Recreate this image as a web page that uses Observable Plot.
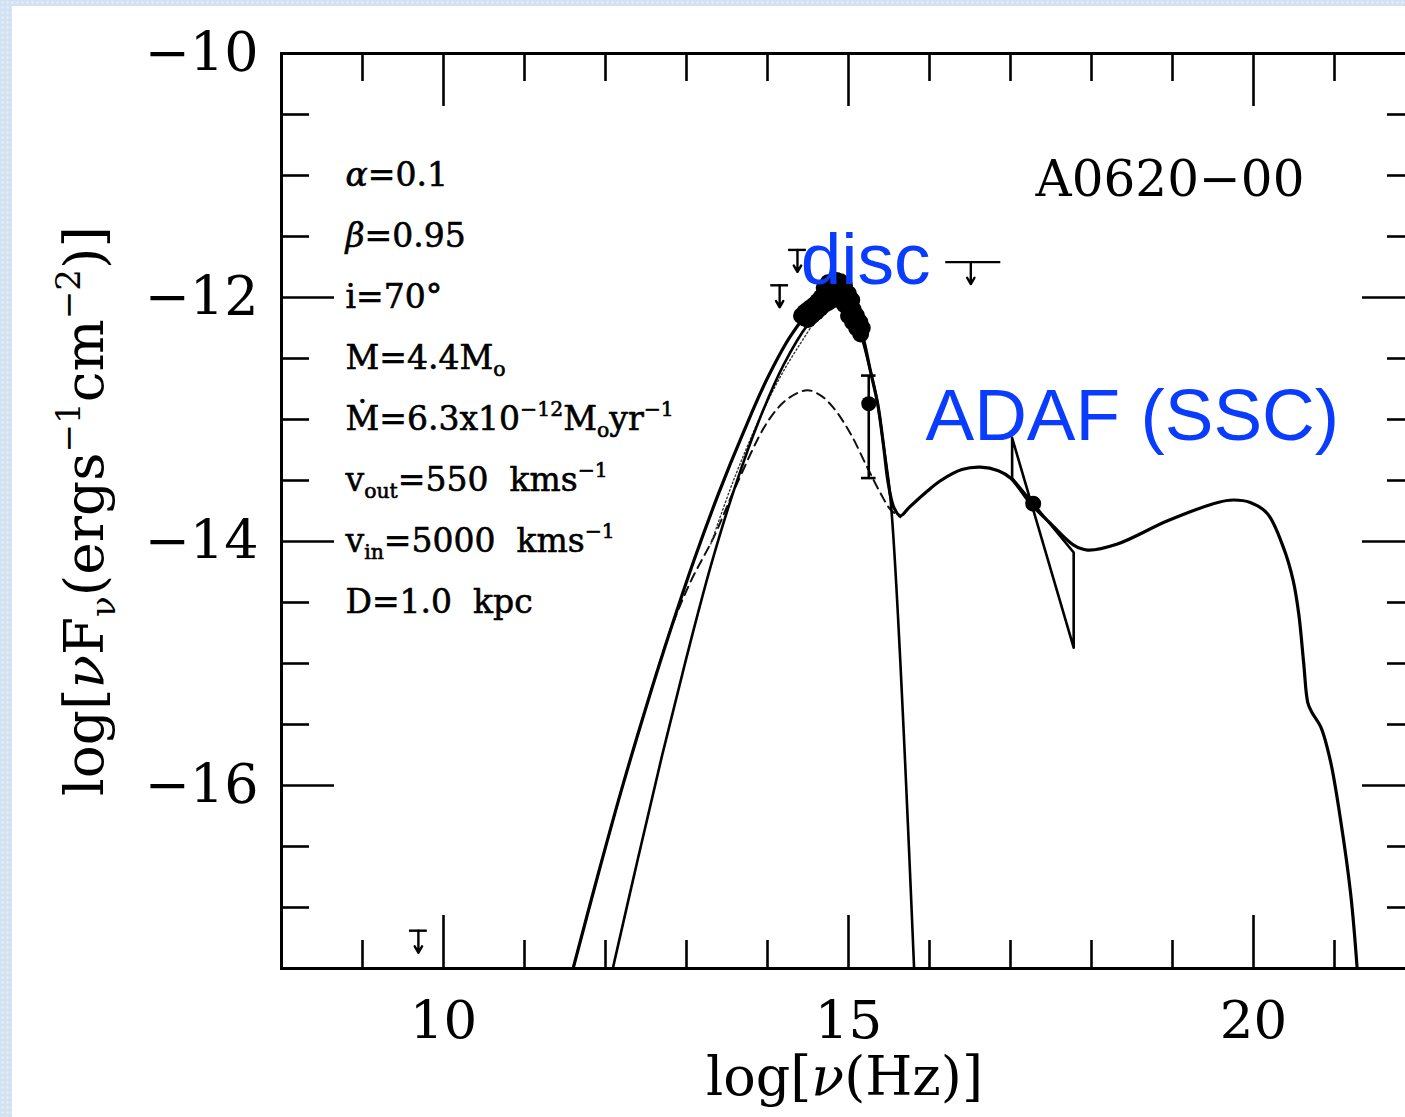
<!DOCTYPE html>
<html><head><meta charset="utf-8">
<script src="https://cdn.jsdelivr.net/npm/d3@7"></script>
<script src="https://cdn.jsdelivr.net/npm/@observablehq/plot@0.6"></script>
<style>
html,body{margin:0;padding:0;overflow:hidden;width:1405px;height:1117px;
  background:#d2e2f2;
  background-image:radial-gradient(rgba(255,255,255,0.35) 1px, transparent 1.5px);
  background-size:5px 5px;}
#panel{position:absolute;left:12px;top:6px;width:1413px;height:1111px;background:#fff;}
</style></head><body><div id="panel"></div>
<script>
// ---------- data ----------
const xTicksMinor = [9, 11, 12, 13, 14, 16, 17, 18, 19, 21];
const xTicksMajor = [10, 15, 20];
const xTickLabels = ["10", "15", "20"];
const yTicksMinor = [-10.5, -11, -11.5, -12.5, -13, -13.5, -14.5, -15, -15.5, -16.5, -17];
const yTicksMajor = [-12, -14, -16];
const yLabelTicks = [-10, -12, -14, -16];
const yTickLabels = ["−10", "−12", "−14", "−16"];

// total model (solid, outer)
const totalModel = [[11.6,-17.5],[11.9,-16.75],[12.2,-16.03],[12.5,-15.36],[12.8,-14.73],[13.1,-14.14],
  [13.4,-13.6],[13.7,-13.11],[14.0,-12.66],[14.3,-12.3],[14.6,-12.06],[14.85,-11.96],
  [15.05,-12.08],[15.17,-12.3],[15.27,-12.6],[15.36,-12.87],[15.43,-13.2],[15.49,-13.52],[15.56,-13.72],
  [15.64,-13.79],[15.75,-13.72],[15.95,-13.6],[16.14,-13.5],[16.4,-13.41],[16.63,-13.39],[16.85,-13.42],
  [17.0,-13.48],[17.25,-13.69],[17.49,-13.85],[17.78,-14.03],[17.95,-14.07],[18.32,-14.02],[18.94,-13.83],
  [19.56,-13.68],[19.75,-13.66],[19.96,-13.68],[20.17,-13.77],[20.37,-14.05],[20.49,-14.32],[20.56,-14.6],
  [20.62,-15.0],[20.67,-15.32],[20.72,-15.4],[20.83,-15.52],[20.95,-15.8],[21.07,-16.26],[21.2,-16.89],[21.28,-17.5]];
// disc component (solid, inner)
const discModel = [[12.09,-17.5],[12.4,-16.6],[12.7,-15.75],[13.0,-14.95],[13.3,-14.2],[13.6,-13.55],
  [13.9,-13.0],[14.2,-12.55],[14.5,-12.22],[14.75,-12.05],[14.95,-12.03],[15.1,-12.2],[15.27,-12.6],
  [15.36,-12.87],[15.43,-13.2],[15.52,-13.66],[15.81,-17.5]];
// ADAF component (dashed)
const adafModel = [[11.6,-17.5],[11.9,-16.75],[12.2,-16.03],[12.5,-15.36],[12.8,-14.73],[13.05,-14.33],
  [13.34,-13.96],[13.6,-13.56],[14.0,-13.02],[14.25,-12.83],[14.49,-12.76],[14.65,-12.8],[14.81,-12.9],
  [15.02,-13.11],[15.23,-13.39],[15.4,-13.61],[15.52,-13.74],[15.64,-13.8]];
// dotted component
const dottedModel = [[13.3,-14.02],[13.58,-13.5],[13.91,-12.98],[14.2,-12.6],[14.53,-12.25]];

// optical/UV data (blob)
const opticalData = [[14.42,-12.15],[14.46,-12.12],[14.5,-12.1],[14.54,-12.08],[14.58,-12.06],[14.62,-12.03],
  [14.66,-12.0],[14.7,-11.98],[14.74,-11.96],[14.78,-11.94],[14.82,-11.92],[14.86,-11.92],[14.9,-11.93],
  [14.94,-11.96],[14.98,-12.02],[15.02,-12.06],[15.06,-12.1],[15.1,-12.15],[15.14,-12.2],[15.17,-12.25],
  [14.46,-12.17],[14.5,-12.18],[14.55,-12.15],[14.6,-12.12],[14.65,-12.09],[14.7,-12.06],[14.75,-12.04],
  [14.8,-12.02],[14.85,-12.0],[14.9,-12.02],[14.95,-12.06],[15.0,-12.15],[15.05,-12.2],[15.1,-12.25],
  [15.15,-12.3],[14.7,-11.92],[14.75,-11.88],[14.8,-11.87],[14.85,-11.86],[14.9,-11.87],[14.95,-11.9],
  [15.0,-11.97],[15.04,-12.02]];
// points with error bars
const errorPoints = [{x: 15.25, y: -12.87, hi: -12.64, lo: -13.48}];
// X-ray bow tie and point
const xrayBowtie = [[17.02,-13.15],[17.78,-14.87],[17.78,-14.09],[17.02,-13.48],[17.02,-13.15]];
const xrayPoint = [[17.28,-13.69]];
// upper limits
const upperLimits = [
  {x: 14.15, y: -11.90, x1: 14.04, x2: 14.26},
  {x: 14.37, y: -11.61, x1: 14.26, x2: 14.48},
  {x: 16.51, y: -11.71, x1: 16.2, x2: 16.88},
  {x: 9.69, y: -17.19, x1: 9.58, x2: 9.80}
];

const params = ["*{α}=0.1", "*{β}=0.95", "i=70°", "M=4.4M_{o}", "Ṁ=6.3x10^{−12}M_{o}yr^{−1}",
  "v_{out}=550\u00a0\u00a0kms^{−1}", "v_{in}=5000\u00a0\u00a0kms^{−1}", "D=1.0\u00a0\u00a0kpc"];
const paramY = [-11, -11.5, -12, -12.5, -13, -13.5, -14, -14.5];
const paramX = 8.79;
const sourceName = [{text: "A0620−00", x: 17.31, y: -11.04}];
const annotations = [{text: "disc", x: 14.41, y: -11.70}, {text: "ADAF (SSC)", x: 15.95, y: -12.98}];
const xLabel = "log[*{ν}(Hz)]";
const yLabel = "log[*{ν}F_{ν}(ergs^{−1}cm^{−2})]";

// ---------- layout ----------
const W = 1413, H = 1111;
const mL = 269, mR = 10, mT = 47, mB = 149;
const xDom = [8, 22], yDom = [-17.5, -10];
const kx = (W - mL - mR) / (xDom[1] - xDom[0]);
const ky = (H - mT - mB) / (yDom[1] - yDom[0]);
const minorLen = 28, majorLen = 53, tw = 2.6;
const serif = "'DejaVu Serif', serif";
const sans = "'Liberation Sans', Arial, sans-serif";

const P = d => d[0], Q = d => d[1];
const marks = [
  // ticks bottom / top
  Plot.ruleX(xTicksMinor, {x: d => d, y1: yDom[0], y2: yDom[0] + minorLen / ky, strokeWidth: tw}),
  Plot.ruleX(xTicksMajor, {x: d => d, y1: yDom[0], y2: yDom[0] + majorLen / ky, strokeWidth: tw}),
  Plot.ruleX(xTicksMinor, {x: d => d, y1: yDom[1], y2: yDom[1] - minorLen / ky, strokeWidth: tw}),
  Plot.ruleX(xTicksMajor, {x: d => d, y1: yDom[1], y2: yDom[1] - majorLen / ky, strokeWidth: tw}),
  // ticks left / right
  Plot.ruleY(yTicksMinor, {y: d => d, x1: xDom[0], x2: xDom[0] + minorLen / kx, strokeWidth: tw}),
  Plot.ruleY(yTicksMajor, {y: d => d, x1: xDom[0], x2: xDom[0] + majorLen / kx, strokeWidth: tw}),
  Plot.ruleY(yTicksMinor, {y: d => d, x1: xDom[1], x2: xDom[1] - minorLen / kx, strokeWidth: tw}),
  Plot.ruleY(yTicksMajor, {y: d => d, x1: xDom[1], x2: xDom[1] - majorLen / kx, strokeWidth: tw}),
  Plot.frame({stroke: "#000", strokeWidth: 3}),
  // tick labels
  Plot.text(xTicksMajor, {x: d => d, text: (d, i) => xTickLabels[i], frameAnchor: "bottom", dy: 53,
    lineAnchor: "middle", textAnchor: "middle", fontSize: 53, fontFamily: serif}),
  Plot.text(yLabelTicks, {y: d => d, text: (d, i) => yTickLabels[i], frameAnchor: "left", dx: -23,
    lineAnchor: "middle", textAnchor: "end", fontSize: 54, fontFamily: serif}),
  // axis labels
  Plot.text([xLabel], {x: 14.95, text: d => d, frameAnchor: "bottom", dy: 109, lineAnchor: "middle",
    textAnchor: "middle", fontSize: 54, fontFamily: serif}),
  Plot.text([yLabel], {text: d => d, frameAnchor: "left", dx: -196, rotate: -90, lineAnchor: "middle",
    textAnchor: "middle", fontSize: 55, fontFamily: serif}),
  // models
  Plot.line(adafModel, {x: P, y: Q, curve: "catmull-rom", stroke: "#111", strokeWidth: 2, strokeDasharray: "9,6", clip: true}),
  Plot.line(dottedModel, {x: P, y: Q, curve: "catmull-rom", stroke: "#333", strokeWidth: 1.4, strokeDasharray: "1.5,2.5", clip: true}),
  Plot.line(discModel, {x: P, y: Q, curve: "catmull-rom", stroke: "#000", strokeWidth: 2.6, clip: true}),
  Plot.line(totalModel, {x: P, y: Q, curve: "catmull-rom", stroke: "#000", strokeWidth: 3.2, clip: true}),
  // data
  Plot.dot(opticalData, {x: P, y: Q, r: 8.5, fill: "#000", stroke: "none"}),
  Plot.ruleX(errorPoints, {x: "x", y1: "lo", y2: "hi", strokeWidth: 2.6}),
  Plot.ruleY(errorPoints.flatMap(d => [d.lo, d.hi].map(v => ({x: d.x, v}))),
    {y: "v", x1: d => d.x - 0.09, x2: d => d.x + 0.09, strokeWidth: 2.6}),
  Plot.dot(errorPoints, {x: "x", y: "y", r: 7.5, fill: "#000", stroke: "none"}),
  Plot.line(xrayBowtie, {x: P, y: Q, stroke: "#000", strokeWidth: 2.6}),
  Plot.dot(xrayPoint, {x: P, y: Q, r: 8, fill: "#000", stroke: "none"}),
  Plot.ruleY(upperLimits, {y: "y", x1: "x1", x2: "x2", strokeWidth: 2.4}),
  Plot.arrow(upperLimits, {x1: "x", x2: "x", y1: "y", y2: d => d.y - 22 / ky, stroke: "#000",
    strokeWidth: 2.4, headLength: 11}),
  // texts
  Plot.text(params, {x: paramX, y: (d, i) => paramY[i], text: d => d, textAnchor: "start", lineAnchor: "middle",
    fontSize: 33, fontFamily: serif, fill: "#000", stroke: "#000", strokeWidth: 0.6}),
  Plot.text(sourceName, {x: "x", y: "y", text: "text", textAnchor: "start", lineAnchor: "middle",
    fontSize: 50, fontFamily: serif}),
  Plot.text(annotations, {x: "x", y: "y", text: "text", textAnchor: "start", lineAnchor: "middle",
    fontSize: 73, fontFamily: sans, fill: "#0a3cff"})
];

const chart = Plot.plot({
  width: W, height: H,
  marginLeft: mL, marginRight: mR, marginTop: mT, marginBottom: mB,
  x: {domain: xDom, axis: null},
  y: {domain: yDom, axis: null},
  style: {background: "white", maxWidth: "none", overflow: "visible", fontFamily: serif, color: "#000"},
  marks
});
document.getElementById("panel").appendChild(chart);

// rich text: ^{sup}, _{sub}, *{italic}
function rich(root) {
  root.querySelectorAll("text").forEach(el => {
    const t = el.textContent;
    if (!/[\^_*]\{/.test(t)) return;
    const fs = parseFloat(getComputedStyle(el).fontSize);
    const re = /([\^_*])\{([^}]*)\}/g;
    const parts = []; let last = 0, m;
    while ((m = re.exec(t))) {
      if (m.index > last) parts.push([t.slice(last, m.index), ""]);
      parts.push([m[2], m[1]]);
      last = re.lastIndex;
    }
    if (last < t.length) parts.push([t.slice(last), ""]);
    while (el.firstChild) el.removeChild(el.firstChild);
    let cur = 0;
    for (const [s, k] of parts) {
      const ts = document.createElementNS("http://www.w3.org/2000/svg", "tspan");
      const off = k === "^" ? -0.42 * fs : k === "_" ? 0.22 * fs : 0;
      if (off !== cur) ts.setAttribute("dy", off - cur);
      cur = off;
      if (k === "^" || k === "_") ts.setAttribute("font-size", 0.62 * fs);
      if (k === "*") ts.setAttribute("font-style", "italic");
      ts.textContent = s;
      el.appendChild(ts);
    }
  });
}
rich(chart);
</script></body></html>
